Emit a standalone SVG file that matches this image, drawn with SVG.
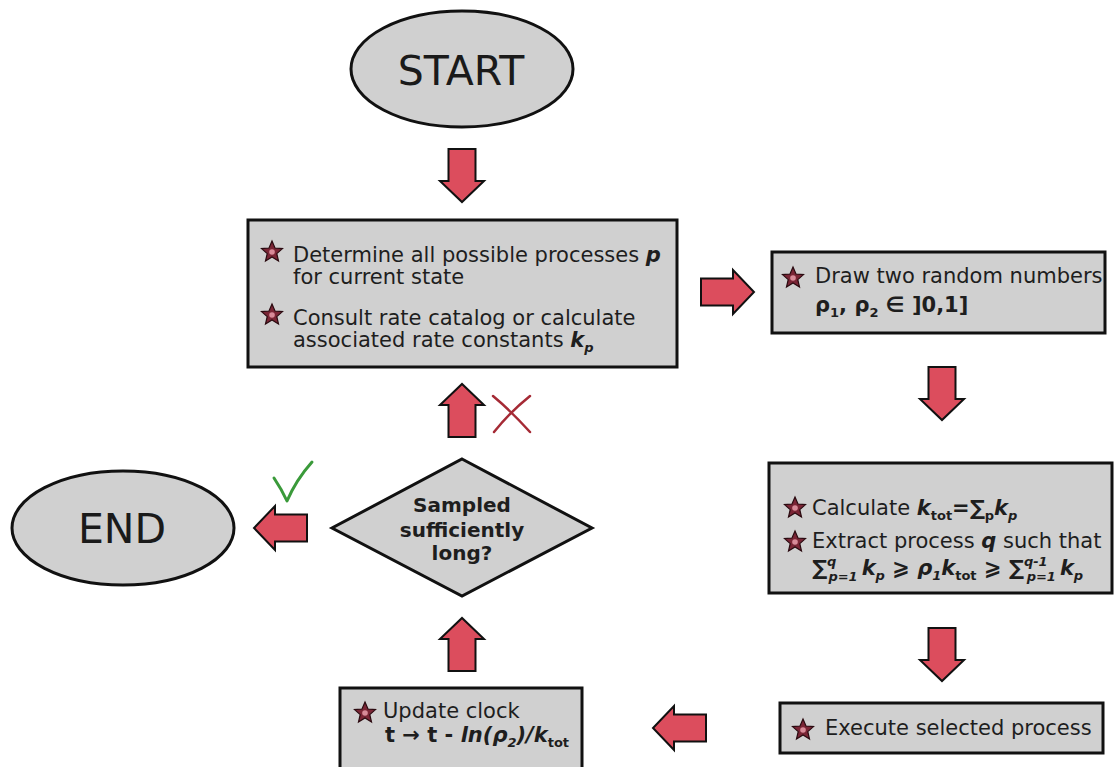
<svg xmlns="http://www.w3.org/2000/svg" xmlns:xlink="http://www.w3.org/1999/xlink" width="1117" height="767" viewBox="0 0 1117 767">
<style>
.box{fill:#d0d0d0;stroke:#111;stroke-width:3}
.t{font-family:"DejaVu Sans","Noto Sans",sans-serif;font-size:21px;fill:#1e1e1e}
.big{font-family:"DejaVu Sans","Noto Sans",sans-serif;font-size:41px;fill:#1a1a1a;text-anchor:middle}
.b{font-weight:bold}
.bi{font-weight:bold;font-style:italic}
.s{font-size:13px}
.q{font-family:"DejaVu Sans","Noto Sans",sans-serif;font-size:20px;font-weight:bold;fill:#1e1e1e;text-anchor:middle}
.arr{fill:#dc4d5d;stroke:#111;stroke-width:2;stroke-linejoin:miter}
</style>
<defs>
<path id="arr" class="arr" d="M-13.5,-53 L13.5,-53 L13.5,-21 L22,-21 L0,0 L-22,-21 L-13.5,-21 Z"/>
<g id="star">
<polygon points="0,-11 3,-4 10.5,-3.4 4.8,1.6 6.5,9 0,5 -6.5,9 -4.8,1.6 -10.5,-3.4 -3,-4" fill="#7a2535" stroke="#2a0a10" stroke-width="1.2"/>
<circle r="2.8" fill="#d88a98"/>
</g>
</defs>

<g id="start">
<ellipse cx="462" cy="69" rx="111" ry="58" class="box"/>
<text x="461" y="85" class="big">START</text>
</g>

<g id="determine">
<rect x="248" y="220" width="429" height="147" class="box"/>
<use xlink:href="#star" x="272" y="252"/>
<text x="293" y="262" class="t">Determine all possible processes <tspan class="bi">p</tspan></text>
<text x="293" y="284" class="t">for current state</text>
<use xlink:href="#star" x="272" y="315"/>
<text x="293" y="325" class="t">Consult rate catalog or calculate</text>
<text x="293" y="347" class="t">associated rate constants <tspan class="bi">k</tspan><tspan class="s bi" dy="5">p</tspan></text>
</g>

<g id="draw">
<rect x="772" y="252" width="333" height="81" class="box"/>
<use xlink:href="#star" x="793" y="278"/>
<text x="815" y="283" class="t">Draw two random numbers</text>
<text x="815" y="312" class="t b">ρ<tspan class="s" dy="5">1</tspan><tspan dy="-5">, ρ</tspan><tspan class="s" dy="5">2</tspan><tspan dy="-5"> ∈ ]0,1]</tspan></text>
</g>

<g id="calculate">
<rect x="769" y="463" width="343" height="130" class="box"/>
<use xlink:href="#star" x="795" y="508"/>
<text x="812" y="515" class="t">Calculate <tspan class="bi">k</tspan><tspan class="s b" dy="5">tot</tspan><tspan class="b" dy="-5">=∑</tspan><tspan class="s b" dy="5">p</tspan><tspan class="bi" dy="-5">k</tspan><tspan class="s bi" dy="5">p</tspan></text>
<use xlink:href="#star" x="795" y="542"/>
<text x="812" y="548" class="t">Extract process <tspan class="bi">q</tspan> such that</text>
<text x="812" y="575" class="t b">∑<tspan class="s bi" dy="-9">q</tspan><tspan class="s bi" dx="-8" dy="15">p=1</tspan><tspan class="bi" dx="4" dy="-6">k</tspan><tspan class="s bi" dy="5">p</tspan><tspan dy="-5"> ⩾ </tspan><tspan class="bi">ρ</tspan><tspan class="s bi" dy="5">1</tspan><tspan class="bi" dy="-5">k</tspan><tspan class="s" dy="5">tot</tspan><tspan dy="-5"> ⩾ ∑</tspan><tspan class="s bi" dy="-9">q-1</tspan><tspan class="s bi" dx="-21" dy="15">p=1</tspan><tspan class="bi" dx="4" dy="-6">k</tspan><tspan class="s bi" dy="5">p</tspan></text>
</g>

<g id="execute">
<rect x="780" y="703" width="323" height="50" class="box"/>
<use xlink:href="#star" x="803" y="730"/>
<text x="825" y="735" class="t">Execute selected process</text>
</g>

<g id="update">
<rect x="340" y="688" width="242" height="90" class="box"/>
<use xlink:href="#star" x="365" y="713"/>
<text x="383" y="718" class="t">Update clock</text>
<text x="385" y="742" class="t b">t → t - <tspan class="bi">ln(ρ</tspan><tspan class="s bi" dy="5">2</tspan><tspan class="bi" dy="-5">)/k</tspan><tspan class="s" dy="5">tot</tspan></text>
</g>

<g id="decision">
<polygon points="462,459 592,528 462,596 332,528" class="box"/>
<text x="462" y="512" class="q">Sampled</text>
<text x="462" y="537" class="q">sufficiently</text>
<text x="462" y="560" class="q">long?</text>
</g>

<g id="end">
<ellipse cx="123" cy="528" rx="111" ry="57" class="box"/>
<text x="122" y="543" class="big">END</text>
</g>

<g id="connectors">
<use xlink:href="#arr" transform="translate(462,202)"/>
<use xlink:href="#arr" transform="translate(754,292) rotate(-90)"/>
<use xlink:href="#arr" transform="translate(942,420)"/>
<use xlink:href="#arr" transform="translate(942,681)"/>
<use xlink:href="#arr" transform="translate(653,728) rotate(90)"/>
<use xlink:href="#arr" transform="translate(462,618) rotate(180)"/>
<use xlink:href="#arr" transform="translate(462,384) rotate(180)"/>
<use xlink:href="#arr" transform="translate(254,528) rotate(90)"/>
</g>

<g id="marks">
<path d="M274,478 Q282,490 287,501 Q296,480 312,462" fill="none" stroke="#3a9a3a" stroke-width="3" stroke-linecap="round" stroke-linejoin="round"/>
<path d="M493,396 Q510,410 530,432 M530,396 Q510,412 494,432" fill="none" stroke="#a52a35" stroke-width="2.5" stroke-linecap="round"/>
</g>
</svg>
